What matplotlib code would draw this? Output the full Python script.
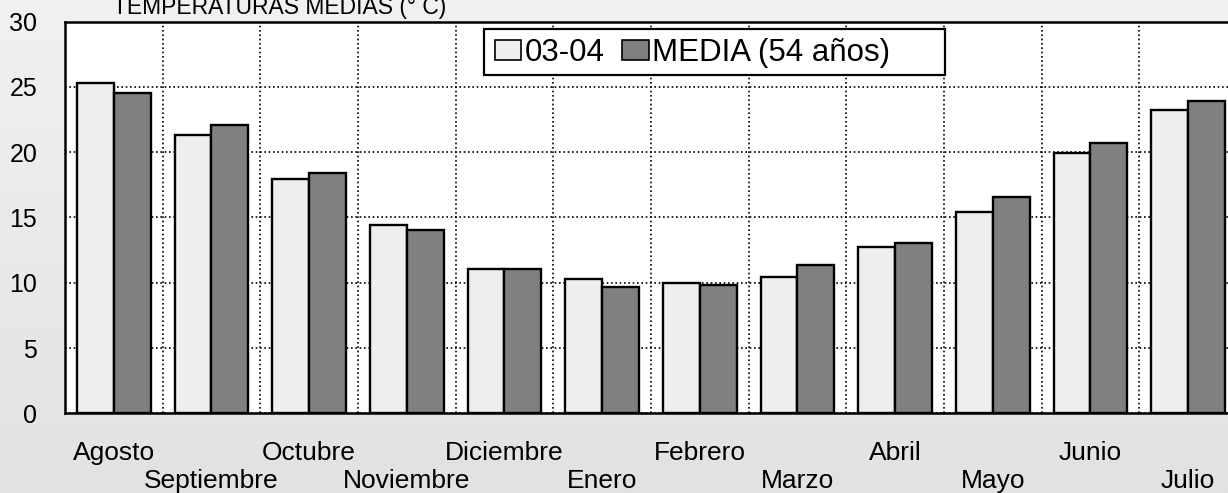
import numpy as np
import matplotlib
matplotlib.use("Agg")
import matplotlib.pyplot as plt
from matplotlib.patches import Rectangle

plt.rcParams['font.family'] = ['Liberation Sans', 'DejaVu Sans']

MESES = ["Agosto", "Septiembre", "Octubre", "Noviembre", "Diciembre", "Enero",
         "Febrero", "Marzo", "Abril", "Mayo", "Junio", "Julio"]
T_0304 = [25.3, 21.3, 17.95, 14.45, 11.05, 10.3, 9.95, 10.45, 12.75, 15.4, 19.9, 23.2]
T_MEDIA = [24.5, 22.1, 18.4, 14.0, 11.05, 9.65, 9.8, 11.35, 13.05, 16.6, 20.7, 23.95]
YTICKS = [0, 5, 10, 15, 20, 25, 30]

LIGHT = "#eeeeee"
DARK = "#808080"
W, H = 1228, 493

fig = plt.figure(figsize=(W / 100, H / 100), dpi=100)

# soft grey gradient background
bg = fig.add_axes([0, 0, 1, 1], zorder=-10)
grad = np.linspace(0, 1, 256).reshape(-1, 1)
bg.imshow(grad, aspect="auto", cmap=matplotlib.colors.LinearSegmentedColormap.from_list(
    "g", ["#f1f1f1", "#e2e2e2"]), extent=[0, 1, 0, 1])
bg.set_axis_off()

# plot area (right side runs past the image edge, as in the original)
x0, x1, yb, yt = 65, 1237, 413.3, 21.5
ax = fig.add_axes([x0 / W, (H - yb) / H, (x1 - x0) / W, (yb - yt) / H])
ax.set_facecolor("white")

x = np.arange(len(MESES))
bw = 0.378
ax.bar(x - bw / 2, T_0304, bw, color=LIGHT, edgecolor="black", linewidth=1.7,
       label="03-04", zorder=3)
ax.bar(x + bw / 2, T_MEDIA, bw, color=DARK, edgecolor="black", linewidth=1.7,
       label="MEDIA (54 años)", zorder=3)

ax.set_xlim(-0.5, len(MESES) - 0.5)
ax.set_ylim(0, 30)
ax.set_yticks(YTICKS)
ax.set_xticks(x)
ax.set_xticklabels([])
ax.set_xticks(x[:-1] + 0.5, minor=True)
ax.tick_params(axis="both", which="both", length=0)
ax.tick_params(axis="y", labelsize=18, pad=20)
ax.grid(True, axis="y", which="major", color="black", linestyle=(0, (1, 1.6)), linewidth=1.2)
ax.grid(True, axis="x", which="minor", color="black", linestyle=(0, (1, 1.6)), linewidth=1.2)
ax.set_axisbelow(True)

for s in ["left", "top", "bottom"]:
    ax.spines[s].set_color("black")
    ax.spines[s].set_linewidth(1.8)
ax.spines["right"].set_visible(False)

# staggered month labels
for i, m in enumerate(MESES):
    yy = -0.119 if i % 2 == 0 else -0.191
    ax.text(i, yy, m, transform=ax.get_xaxis_transform(), ha="center",
            va="baseline", fontsize=19, clip_on=False)

# legend: entries without frame, box drawn separately (it has extra room on the right)
ax.add_patch(Rectangle((484 / W, (H - 75) / H), (945 - 484) / W, (75 - 29.5) / H,
                       transform=fig.transFigure, facecolor="white", clip_on=False,
                       edgecolor="black", linewidth=1.6, zorder=4))
leg = ax.legend(loc="center left", bbox_to_anchor=(495 / W, (H - 53) / H),
                bbox_transform=fig.transFigure, ncol=2, fontsize=22.5,
                frameon=False, borderaxespad=0, borderpad=0,
                handlelength=0.84, handleheight=0.65, handletextpad=0.1,
                columnspacing=0.58)
leg.set_zorder(6)
for p in leg.get_patches():
    p.set_linewidth(1.2)

fig.text(113 / W, (H - 14) / H, "TEMPERATURAS MEDIAS (° C)", fontsize=16.5,
         ha="left", va="baseline")

fig.savefig("out.png", dpi=100)
